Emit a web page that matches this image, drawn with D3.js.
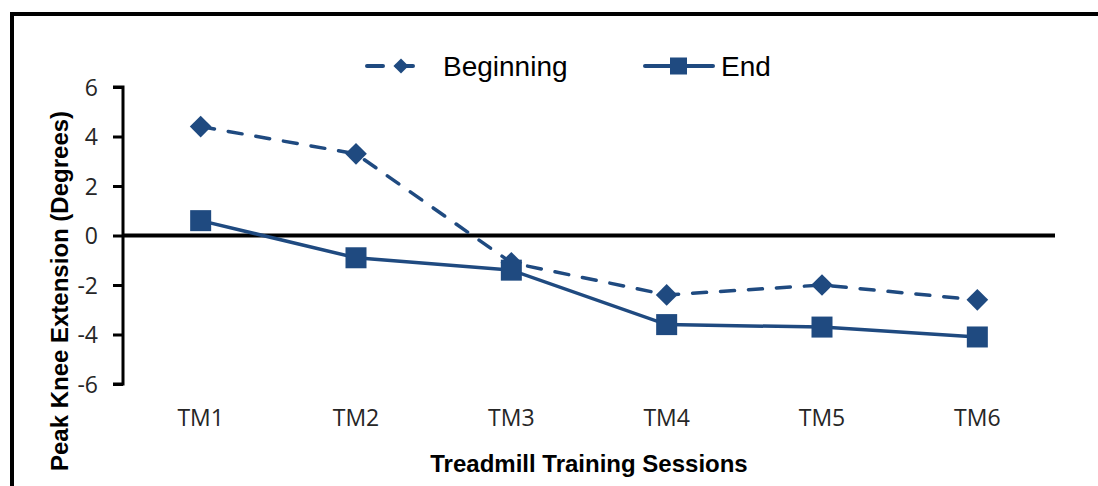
<!DOCTYPE html>
<html>
<head>
<meta charset="utf-8">
<script src="https://cdn.jsdelivr.net/npm/d3@7"></script>
<style>
  html, body { margin: 0; padding: 0; background: #fff; }
  svg { display: block; }
</style>
</head>
<body>
<svg id="chart" width="1098" height="486"></svg>
<script>
// Treadmill training sessions and peak knee extension (degrees)
const sessions = ["TM1", "TM2", "TM3", "TM4", "TM5", "TM6"];
const beginningValues = [4.4, 3.3, -1.1, -2.4, -2.0, -2.6];
const endValues = [0.6, -0.9, -1.4, -3.6, -3.7, -4.1];
const yTicks = [-6, -4, -2, 0, 2, 4, 6];
const seriesNames = ["Beginning", "End"];

const color = "#1f4a80";
const svg = d3.select("#chart");

// frame around the chart area
svg.append("rect")
  .attr("x", 12).attr("y", 14)
  .attr("width", 1200).attr("height", 600)
  .attr("fill", "none").attr("stroke", "#000").attr("stroke-width", 4);

const plotLeft = 123, plotRight = 1055, plotTop = 87, plotBottom = 384;

const x = d3.scaleBand().domain(sessions).range([plotLeft, plotRight]).padding(0);
const y = d3.scaleLinear().domain([-6, 6]).range([plotBottom, plotTop]);

// y axis (plain hyphen for negative labels)
const yAxis = svg.append("g")
  .attr("transform", `translate(${plotLeft},0)`)
  .call(d3.axisLeft(y).tickValues(yTicks).tickSize(10).tickPadding(15).tickFormat(d => String(d)));
yAxis.select(".domain").attr("stroke", "#000").attr("stroke-width", 3).attr("d", `M-10,${plotTop}H0V${plotBottom}H-10`);
yAxis.selectAll(".tick line").attr("stroke", "#000").attr("stroke-width", 3);
yAxis.selectAll(".tick text")
  .attr("font-family", "'Open Sans', sans-serif").attr("font-size", 23).attr("fill", "#262626")
  .attr("dy", "0.36em");

// zero baseline
svg.append("line")
  .attr("x1", plotLeft).attr("x2", plotRight)
  .attr("y1", y(0)).attr("y2", y(0))
  .attr("stroke", "#000").attr("stroke-width", 4);

// category labels
const xAxis = svg.append("g")
  .attr("transform", `translate(0,${plotBottom})`)
  .call(d3.axisBottom(x).tickSize(0).tickPadding(26));
xAxis.select(".domain").remove();
xAxis.selectAll(".tick text")
  .attr("font-family", "'Open Sans', sans-serif").attr("font-size", 23).attr("fill", "#262626");

// axis titles
svg.append("text")
  .attr("x", 589).attr("y", 472)
  .attr("text-anchor", "middle")
  .attr("font-family", "'Liberation Sans', Arial, sans-serif")
  .attr("font-weight", "bold").attr("font-size", 24)
  .text("Treadmill Training Sessions");

svg.append("text")
  .attr("transform", "translate(68,291) rotate(-90)")
  .attr("text-anchor", "middle")
  .attr("font-family", "'Liberation Sans', Arial, sans-serif")
  .attr("font-weight", "bold").attr("font-size", 24)
  .text("Peak Knee Extension (Degrees)");

const line = d3.line()
  .x((d, i) => x(sessions[i]) + x.bandwidth() / 2)
  .y(d => y(d));

// Beginning series (dashed with diamonds)
svg.append("path")
  .datum(beginningValues)
  .attr("d", line)
  .attr("fill", "none").attr("stroke", color).attr("stroke-width", 3.5)
  .attr("stroke-dasharray", "14,14").attr("stroke-linecap", "round");

const diamond = d3.symbol().type(d3.symbolDiamond2).size(300);
svg.append("g").selectAll("path")
  .data(beginningValues)
  .join("path")
  .attr("transform", (d, i) => `translate(${x(sessions[i]) + x.bandwidth() / 2},${y(d)})`)
  .attr("d", diamond)
  .attr("fill", color);

// End series (solid with squares)
svg.append("path")
  .datum(endValues)
  .attr("d", line)
  .attr("fill", "none").attr("stroke", color).attr("stroke-width", 3.5);

svg.append("g").selectAll("rect")
  .data(endValues)
  .join("rect")
  .attr("x", (d, i) => x(sessions[i]) + x.bandwidth() / 2 - 10.5)
  .attr("y", d => y(d) - 10.5)
  .attr("width", 21).attr("height", 21)
  .attr("fill", color);

// legend
const legend = svg.append("g");
const lgY = 66;
// Beginning
legend.append("line")
  .attr("x1", 367).attr("x2", 422).attr("y1", lgY).attr("y2", lgY)
  .attr("stroke", color).attr("stroke-width", 4)
  .attr("stroke-dasharray", "16,14").attr("stroke-linecap", "round");
legend.append("path")
  .attr("transform", `translate(401,${lgY})`)
  .attr("d", d3.symbol().type(d3.symbolDiamond2).size(145))
  .attr("fill", color);
legend.append("text")
  .attr("x", 443).attr("y", lgY).attr("dy", "0.36em")
  .attr("font-family", "'Liberation Sans', Arial, sans-serif").attr("font-size", 28)
  .text(seriesNames[0]);
// End
legend.append("line")
  .attr("x1", 645).attr("x2", 713).attr("y1", lgY).attr("y2", lgY)
  .attr("stroke", color).attr("stroke-width", 4).attr("stroke-linecap", "round");
legend.append("rect")
  .attr("x", 670).attr("y", lgY - 8.5).attr("width", 17).attr("height", 17)
  .attr("fill", color);
legend.append("text")
  .attr("x", 721).attr("y", lgY).attr("dy", "0.36em")
  .attr("font-family", "'Liberation Sans', Arial, sans-serif").attr("font-size", 28)
  .text(seriesNames[1]);
</script>
</body>
</html>
